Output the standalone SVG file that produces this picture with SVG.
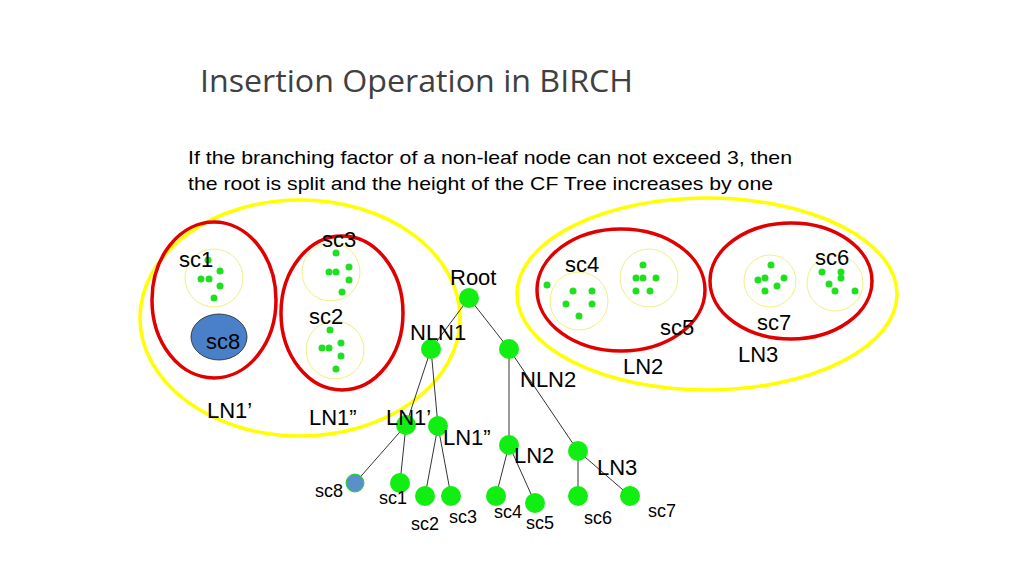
<svg xmlns="http://www.w3.org/2000/svg" width="1024" height="576" viewBox="0 0 1024 576">
<style>
text{font-family:"Liberation Sans",Arial,sans-serif;fill:#000}
.t{font-size:22px}.s{font-size:18px}
.y{fill:none;stroke:#ffff00;stroke-width:3.5}
.r{fill:none;stroke:#e00000;stroke-width:3.5}
.c{fill:none;stroke:#f0f080;stroke-width:1}
.d{fill:#1ee01e}
.n{fill:#11ee11}
.e{stroke:#000;stroke-width:0.8}
</style>
<rect width="1024" height="576" fill="#fff"/>
<text x="200" y="92" textLength="433" lengthAdjust="spacingAndGlyphs" style="font-family:'Open Sans','Liberation Sans',sans-serif;font-size:31px;fill:#404040">Insertion Operation in BIRCH</text>
<text x="188" y="164" textLength="604" lengthAdjust="spacingAndGlyphs" style="font-size:18.5px">If the branching factor of a non-leaf node can not exceed 3, then</text>
<text x="188" y="190" textLength="585" lengthAdjust="spacingAndGlyphs" style="font-size:18.5px">the root is split and the height of the CF Tree increases by one</text>
<g id="left">
<ellipse class="y" cx="300" cy="318" rx="160" ry="118"/>
<ellipse class="r" cx="214" cy="300" rx="62" ry="78"/>
<ellipse class="r" cx="342" cy="313" rx="61" ry="77"/>
<circle class="c" cx="214" cy="278" r="29"/>
<circle class="c" cx="331" cy="272" r="29"/>
<circle class="c" cx="335" cy="350" r="29"/>
<ellipse cx="219" cy="337" rx="28" ry="23" fill="#4a80c8" stroke="#222" stroke-width="0.8"/>
<g class="d">
<circle cx="208" cy="260" r="3.5"/><circle cx="201" cy="279" r="3.5"/><circle cx="209" cy="279" r="3.5"/><circle cx="220" cy="271" r="3.5"/><circle cx="220" cy="286" r="3.5"/><circle cx="214" cy="298" r="3.5"/>
<circle cx="336" cy="253" r="3.5"/><circle cx="329" cy="272" r="3.5"/><circle cx="336" cy="272" r="3.5"/><circle cx="349" cy="267" r="3.5"/><circle cx="349" cy="280" r="3.5"/><circle cx="342" cy="292" r="3.5"/>
<circle cx="330" cy="330" r="3.5"/><circle cx="322" cy="348" r="3.5"/><circle cx="329" cy="348" r="3.5"/><circle cx="341" cy="343" r="3.5"/><circle cx="341" cy="356" r="3.5"/><circle cx="336" cy="369" r="3.5"/>
</g>
<text class="t" x="179" y="267">sc1</text>
<text class="t" x="322" y="247">sc3</text>
<text class="t" x="309" y="324">sc2</text>
<text class="t" x="206" y="349">sc8</text>
<text class="t" x="207" y="418">LN1’</text>
<text class="t" x="309" y="425">LN1”</text>
</g>
<g id="right">
<ellipse class="y" cx="707" cy="294" rx="190" ry="96"/>
<ellipse class="r" cx="621" cy="290" rx="84" ry="61"/>
<ellipse class="r" cx="791" cy="281" rx="81" ry="58"/>
<circle class="c" cx="579" cy="301" r="29"/>
<circle class="c" cx="649" cy="278" r="29"/>
<circle class="c" cx="770" cy="281" r="26"/>
<circle class="c" cx="835" cy="283" r="28"/>
<g class="d">
<circle cx="547" cy="285" r="3.5"/><circle cx="573" cy="291" r="3.5"/><circle cx="592" cy="291" r="3.5"/><circle cx="566" cy="304" r="3.5"/><circle cx="592" cy="304" r="3.5"/><circle cx="579" cy="316" r="3.5"/>
<circle cx="643" cy="265" r="3.5"/><circle cx="636" cy="278" r="3.5"/><circle cx="643" cy="278" r="3.5"/><circle cx="656" cy="278" r="3.5"/><circle cx="636" cy="291" r="3.5"/><circle cx="650" cy="291" r="3.5"/>
<circle cx="771" cy="265" r="3.5"/><circle cx="758" cy="280" r="3.5"/><circle cx="765" cy="278" r="3.5"/><circle cx="784" cy="278" r="3.5"/><circle cx="777" cy="286" r="3.5"/><circle cx="765" cy="291" r="3.5"/>
<circle cx="822" cy="272" r="3.5"/><circle cx="841" cy="272" r="3.5"/><circle cx="841" cy="278" r="3.5"/><circle cx="829" cy="284" r="3.5"/><circle cx="835" cy="291" r="3.5"/><circle cx="855" cy="291" r="3.5"/>
</g>
<text class="t" x="565" y="272">sc4</text>
<text class="t" x="660" y="335">sc5</text>
<text class="t" x="815" y="265">sc6</text>
<text class="t" x="757" y="330">sc7</text>
<text class="t" x="623" y="374">LN2</text>
<text class="t" x="738" y="362">LN3</text>
</g>
<g id="connectors">
<line class="e" x1="469" y1="298" x2="431" y2="349"/>
<line class="e" x1="469" y1="298" x2="509" y2="349"/>
<line class="e" x1="431" y1="349" x2="406" y2="425"/>
<line class="e" x1="431" y1="349" x2="438" y2="426"/>
<line class="e" x1="509" y1="349" x2="509" y2="445"/>
<line class="e" x1="509" y1="349" x2="578" y2="451"/>
<line class="e" x1="406" y1="425" x2="355" y2="483"/>
<line class="e" x1="406" y1="425" x2="400" y2="483"/>
<line class="e" x1="438" y1="426" x2="425" y2="496"/>
<line class="e" x1="438" y1="426" x2="451" y2="496"/>
<line class="e" x1="509" y1="445" x2="496" y2="496"/>
<line class="e" x1="509" y1="445" x2="535" y2="503"/>
<line class="e" x1="578" y1="451" x2="578" y2="496"/>
<line class="e" x1="578" y1="451" x2="630" y2="496"/>
</g>
<g id="tree" class="n">
<circle id="root" cx="469" cy="298" r="10"/>
<circle id="nln1" cx="431" cy="349" r="10"/>
<circle id="nln2" cx="509" cy="349" r="10"/>
<circle id="ln1a" cx="406" cy="425" r="10"/>
<circle id="ln1b" cx="438" cy="426" r="10"/>
<circle id="ln2" cx="509" cy="445" r="10"/>
<circle id="ln3" cx="578" cy="451" r="10"/>
<circle id="l8" cx="355" cy="483" r="9" fill="#5a90c8" stroke="#22dd22" stroke-width="1"/>
<circle id="l1" cx="400" cy="483" r="10"/>
<circle id="l2" cx="425" cy="496" r="10"/>
<circle id="l3" cx="451" cy="496" r="10"/>
<circle id="l4" cx="496" cy="496" r="10"/>
<circle id="l5" cx="535" cy="503" r="10"/>
<circle id="l6" cx="578" cy="496" r="10"/>
<circle id="l7" cx="630" cy="496" r="10"/>
</g>
<g id="labels">
<text class="t" x="450" y="285">Root</text>
<text class="t" x="410" y="340">NLN1</text>
<text class="t" x="520" y="387">NLN2</text>
<text class="t" x="386" y="425">LN1’</text>
<text class="t" x="443" y="445">LN1”</text>
<text class="t" x="514" y="463">LN2</text>
<text class="t" x="597" y="475">LN3</text>
<text class="s" x="315" y="497">sc8</text>
<text class="s" x="379" y="504">sc1</text>
<text class="s" x="411" y="530">sc2</text>
<text class="s" x="449" y="523">sc3</text>
<text class="s" x="494" y="518">sc4</text>
<text class="s" x="526" y="529">sc5</text>
<text class="s" x="584" y="524">sc6</text>
<text class="s" x="648" y="517">sc7</text>
</g>
</svg>
